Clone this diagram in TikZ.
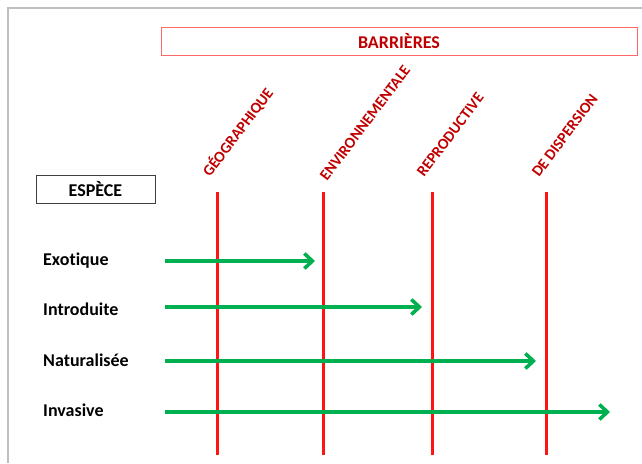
\documentclass[tikz,border=0pt]{standalone}
\usepackage{fontspec}
\setmainfont{Carlito}[Ligatures=CommonOff]
\usetikzlibrary{positioning}
\usetikzlibrary{arrows.meta}

\definecolor{barred}{RGB}{255,20,20}
\definecolor{txtred}{RGB}{192,0,0}
\definecolor{arrgreen}{RGB}{0,176,80}

\begin{document}
\begin{tikzpicture}[
x=1pt, y=-1pt,
font=\fontsize{18}{21}\selectfont\bfseries
]

\tikzstyle{hd} = [draw=red!60, line width=1pt, text=txtred, minimum width=476, minimum height=28, inner sep=0pt]
\tikzstyle{sp} = [draw=black!75, line width=1pt, minimum width=119, minimum height=28, inner sep=0pt]
\tikzstyle{rot} = [text=txtred, rotate=53, anchor=base west, inner sep=0pt, font=\fontsize{15.5}{18}\selectfont\bfseries]
\tikzstyle{bar} = [draw=barred, line width=3pt]
\tikzstyle{arr} = [draw=arrgreen, line width=3.6pt, -{Straight Barb[length=8pt,width=15pt]}]
\tikzstyle{row} = [anchor=base west, inner sep=0pt]

\useasboundingbox (0,0) rectangle (642,463);
% cadre gris
\draw[black!25, line width=1.5pt] (642,8) -- (8,8) -- (8,463);

\node[hd] (barr) at (399,41) {BARRIÈRES};
\node[sp] (esp) at (95.5,189) {ESPÈCE};

% barrieres
\foreach \x/\lx/\ly/\t/\n in {217/210/178/GÉOGRAPHIQUE/g, 323/327/182/ENVIRONNEMENTALE/e, 432/424/178/REPRODUCTIVE/r, 546/539/178/DE DISPERSION/d} {
    \coordinate (\n top) at (\x,192);
    \coordinate (\n bot) at (\x,455);
    \draw[bar] (\n top) -- (\n bot);
    \node[rot] (\n lab) at (\lx,\ly) {\t};
}

% especes
\foreach \y/\b/\e/\t/\n in {261/265/315/Exotique/ex, 307/315/422/Introduite/in, 361/366/536/Naturalisée/na, 412/416/610/Invasive/iv} {
    \node[row] (\n) at (43,\b) {\t};
    \coordinate (\n s) at (165,\y);
    \coordinate (\n e) at (\e,\y);
    \draw[arr] (\n s) -- (\n e);
}
\end{tikzpicture}
\end{document}
